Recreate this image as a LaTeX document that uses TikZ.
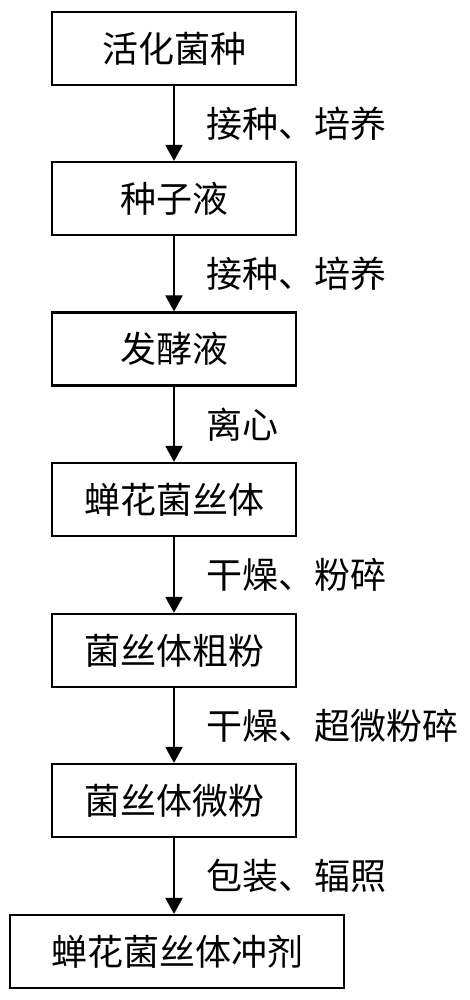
\documentclass[tikz,border=0pt]{standalone}
\usepackage{fontspec}
\setmainfont{Noto Sans CJK SC}
\usetikzlibrary{arrows.meta, positioning}

\begin{document}
\begin{tikzpicture}[x=1pt, y=-1pt]
    % Setup the styles for the steps
        \tikzset{step box/.style={draw, line width=2.2pt,
                                  minimum width=244pt,
                                  minimum height=73pt,
                                  inner sep=0pt,
                                  font=\fontsize{36}{36}\selectfont},
                 step label/.style={anchor=west, inner sep=0pt,
                                    xshift=31pt,
                                    font=\fontsize{36}{36}\selectfont}}
        \useasboundingbox (0,0) rectangle (469,1000);
        % Draw the steps
        \node[step box] at (174, 48.5)  (activate) {活化菌种};
        \node[step box] at (174, 198.5) (seed)     {种子液};
        \node[step box] at (174, 349)   (ferment)  {发酵液};
        \node[step box] at (174, 499.5) (mycel)    {蝉花菌丝体};
        \node[step box] at (174, 650.5) (coarse)   {菌丝体粗粉};
        \node[step box] at (174, 800.5) (fine)     {菌丝体微粉};
        \node[step box, minimum width=334pt] at (177, 951.5) (granule) {蝉花菌丝体冲剂};
        % Connect the steps with arrows
        \draw[line width=2.2pt,
              -{Triangle[width=17pt, length=16pt]}]
            (activate) -- node[step label] {接种、培养} (seed);
        \draw[line width=2.2pt,
              -{Triangle[width=17pt, length=16pt]}]
            (seed) -- node[step label] {接种、培养} (ferment);
        \draw[line width=2.2pt,
              -{Triangle[width=17pt, length=16pt]}]
            (ferment) -- node[step label] {离心} (mycel);
        \draw[line width=2.2pt,
              -{Triangle[width=17pt, length=16pt]}]
            (mycel) -- node[step label] {干燥、粉碎} (coarse);
        \draw[line width=2.2pt,
              -{Triangle[width=17pt, length=16pt]}]
            (coarse) -- node[step label] {干燥、超微粉碎} (fine);
        \draw[line width=2.2pt,
              -{Triangle[width=17pt, length=16pt]}]
            (fine) -- node[step label] {包装、辐照} (granule.north -| fine.south);
\end{tikzpicture}
\end{document}
